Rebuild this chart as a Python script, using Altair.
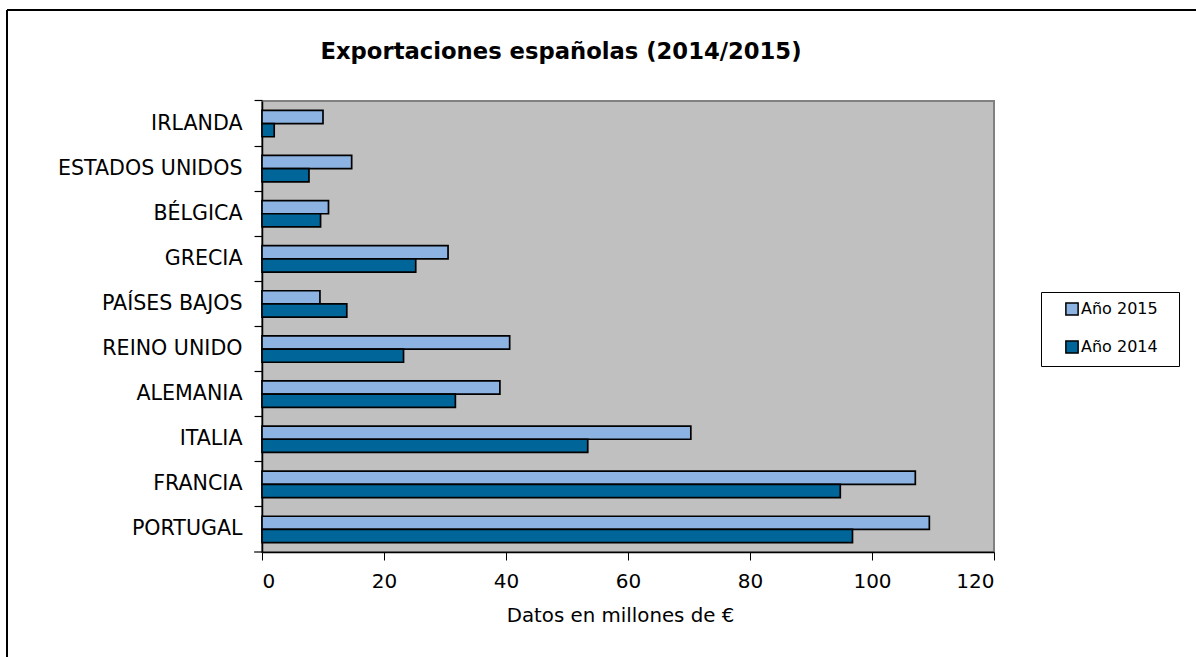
import altair as alt
import pandas as pd

paises = ["IRLANDA", "ESTADOS UNIDOS", "BÉLGICA", "GRECIA", "PAÍSES BAJOS",
          "REINO UNIDO", "ALEMANIA", "ITALIA", "FRANCIA", "PORTUGAL"]
anio_2015 = [10.0, 14.7, 10.9, 30.5, 9.5, 40.6, 39.0, 70.3, 107.1, 109.4]
anio_2014 = [2.0, 7.7, 9.6, 25.2, 13.9, 23.2, 31.7, 53.4, 94.8, 96.8]
series = ["Año 2015", "Año 2014"]
colores = ["#8DB3E2", "#006699"]
x_ticks = [0, 20, 40, 60, 80, 100, 120]

rows = []
for p, v15, v14 in zip(paises, anio_2015, anio_2014):
    rows.append({"pais": p, "serie": series[0], "valor": v15})
    rows.append({"pais": p, "serie": series[1], "valor": v14})
df = pd.DataFrame(rows)

FONT = "DejaVu Sans"
P_IN = 0.415
y_scale = alt.Scale(paddingInner=P_IN, paddingOuter=P_IN / 2)

bars = alt.Chart(df).mark_bar(stroke="black", strokeWidth=1.7).encode(
    x=alt.X("valor:Q",
            scale=alt.Scale(domain=[0, 120], nice=False),
            axis=alt.Axis(values=x_ticks, title="Datos en millones de €",
                          grid=False, tickSize=8, tickColor="black", domainColor="black",
                          domainWidth=1.5, labelFontSize=20, labelFont=FONT,
                          labelColor="black", labelPadding=11,
                          titleFont=FONT, titleFontSize=19.8, titleFontWeight="normal",
                          titleColor="black", titlePadding=14, titleX=358)),
    y=alt.Y("pais:N", sort=paises, scale=y_scale,
            axis=alt.Axis(title=None, ticks=False, domain=False,
                          labelFontSize=20.6, labelFont=FONT, labelColor="black",
                          labelPadding=20, labelLimit=300)),
    yOffset=alt.YOffset("serie:N", sort=series),
    color=alt.Color("serie:N", sort=series,
                    scale=alt.Scale(domain=series, range=colores),
                    legend=alt.Legend(title=None, orient="none", legendX=779, legendY=191,
                                      strokeColor="black", padding=9,
                                      symbolType="square", symbolSize=150,
                                      symbolStrokeColor="black", symbolStrokeWidth=1.5,
                                      symbolOffset=14, labelOffset=1,
                                      labelExpr="datum.label + '\u2800'",
                                      labelFont=FONT, labelFontSize=16, labelColor="black",
                                      rowPadding=18)),
)

# second left axis carrying only the tick marks between categories
ticks_layer = alt.Chart(df).mark_point(opacity=0).encode(
    y=alt.Y("pais:N", sort=paises, scale=y_scale,
            axis=alt.Axis(title=None, orient="left", labels=False,
                          bandPosition=-(P_IN / 2) / (1 - P_IN),
                          tickSize=8, tickColor="black", tickWidth=1.2,
                          domainColor="black", domainWidth=1.5)),
)

frame_df = pd.DataFrame({"k": [0]})
bottom_tick = alt.Chart(frame_df).mark_rule(color="black", strokeWidth=1.2, clip=False).encode(
    x=alt.value(-8), x2=alt.value(0), y=alt.value(451))
frame_left = alt.Chart(frame_df).mark_rule(color="black", strokeWidth=2, clip=False).encode(
    x=alt.value(-255), y=alt.value(-91), y2=alt.value(600))
frame_top = alt.Chart(frame_df).mark_rule(color="black", strokeWidth=2, clip=False).encode(
    x=alt.value(-255), x2=alt.value(1000), y=alt.value(-91))

chart = alt.layer(bars, ticks_layer, bottom_tick, frame_left, frame_top).resolve_axis(
    y="independent"
).properties(
    width=732, height=451,
    title=alt.TitleParams("Exportaciones españolas (2014/2015)", font=FONT, fontSize=22.7,
                          fontWeight="bold", color="black", anchor="middle",
                          frame="group", dx=-67, offset=39, dy=94),
    autosize=alt.AutoSizeParams(type="none"),
    padding={"left": 262, "top": 101, "right": 202, "bottom": 105},
    background="white",
).configure_view(fill="#C0C0C0", stroke="#808080", strokeWidth=2)

chart.save("out.html", embed_options={"renderer": "svg", "actions": False})
